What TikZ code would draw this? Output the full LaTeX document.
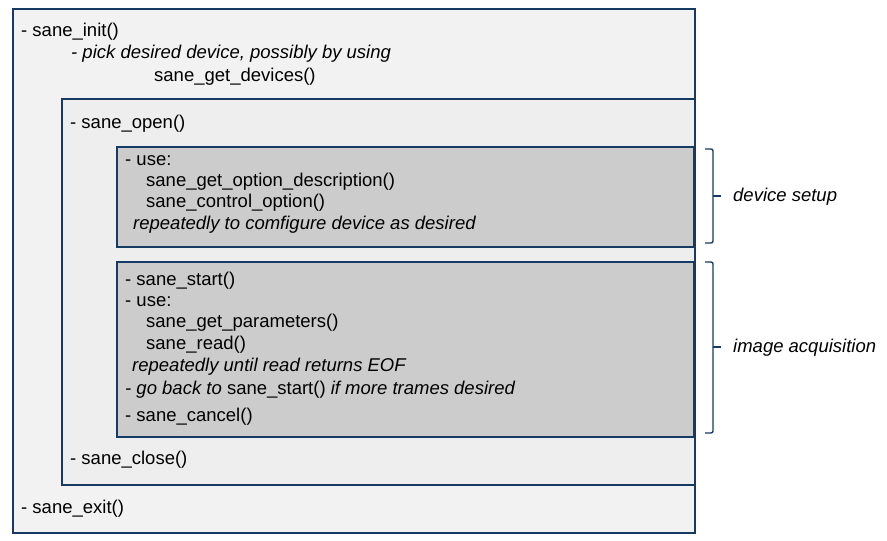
\documentclass[tikz,border=0pt]{standalone}
\usepackage{fontspec}
\setmainfont{Liberation Sans}
\definecolor{frameblue}{HTML}{173A63}
\definecolor{outerfill}{HTML}{F2F2F2}
\definecolor{midfill}{HTML}{EEEEEE}
\definecolor{stepfill}{HTML}{CCCCCC}
\tikzstyle{frame} = [rectangle, draw=frameblue, line width=1.6pt, inner sep=0pt, anchor=north west]
\tikzstyle{txt} = [anchor=west, inner sep=0pt, font=\fontsize{18.5}{20}\selectfont]
\tikzstyle{itxt} = [txt, font=\fontsize{18.5}{20}\selectfont\itshape]
\tikzstyle{bracket} = [draw=frameblue, line width=1.4pt, rounded corners=2pt]

\begin{document}
\begin{tikzpicture}[x=1pt,y=-1pt]
  \useasboundingbox (0,0) rectangle (887,541);
  % nested boxes
  \node[frame, fill=outerfill, minimum width=682pt, minimum height=524pt] (outer) at (12,8) {};
  \node[frame, fill=midfill, minimum width=633pt, minimum height=386pt] (open) at (61,98) {};
  \node[frame, fill=stepfill, minimum width=577pt, minimum height=100pt] (setup) at (116,146) {};
  \node[frame, fill=stepfill, minimum width=577pt, minimum height=175pt] (acq) at (116,261) {};

  \node[txt] (init) at (21,32) {- sane\_init()};
  \node[itxt] (pick) at (71,54) {- pick desired device, possibly by using};
  \node[txt] (getdev) at (154,77) {sane\_get\_devices()};
  \node[txt] (opn) at (70,124) {- sane\_open()};

  \node[txt] (use1) at (125,161) {- use:};
  \node[txt] (optdesc) at (146,182) {sane\_get\_option\_description()};
  \node[txt] (ctrl) at (146,203) {sane\_control\_option()};
  \node[itxt] (rep1) at (133,225) {repeatedly to comfigure device as desired};

  \node[txt] (start) at (125,281) {- sane\_start()};
  \node[txt] (use2) at (125,302) {- use:};
  \node[txt] (params) at (146,323) {sane\_get\_parameters()};
  \node[txt] (rd) at (146,345) {sane\_read()};
  \node[itxt] (rep2) at (132,367) {repeatedly until read returns EOF};
  \node[txt] (back) at (125,390) {\itshape - go back to \upshape sane\_start() \itshape if more trames desired};
  \node[txt] (cancel) at (125,417) {- sane\_cancel()};

  \node[txt] (close) at (70,460) {- sane\_close()};
  \node[txt] (exit) at (21,509) {- sane\_exit()};

  % brackets
  \coordinate (s1) at (705,149);
  \coordinate (s2) at (705,243);
  \coordinate (a1) at (705,262);
  \coordinate (a2) at (705,433);
  \draw[bracket] (s1) -- ++(8,0) -- ++(0,47) -- ++(0,47) -- (s2);
  \draw[bracket] (a1) -- ++(8,0) -- ++(0,171) -- (a2);
  \draw[bracket] (713,196) -- (721,196);
  \draw[bracket] (713,347) -- (721,347);
  \node[itxt] (setuplbl) at (733,197) {device setup};
  \node[itxt] (acqlbl) at (733,348) {image acquisition};
\end{tikzpicture}
\end{document}
